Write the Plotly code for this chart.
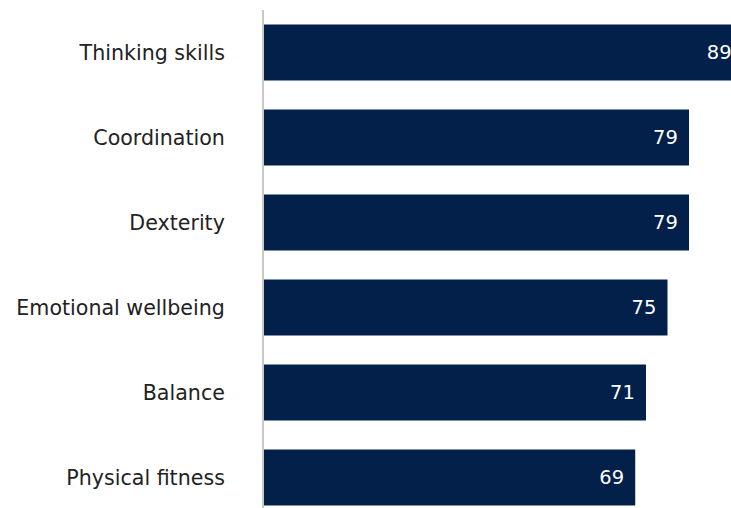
import plotly.graph_objects as go

categories = ["Thinking skills", "Coordination", "Dexterity", "Emotional wellbeing", "Balance", "Physical fitness"]
values = [89, 79, 79, 75, 71, 69]

BAR = "#03204a"
FONT = "DejaVu Sans"

fig = go.Figure(go.Bar(
    x=values,
    y=categories,
    orientation="h",
    marker=dict(color=BAR, line=dict(width=0)),
    text=[str(v) + "\u00a0\u200a" for v in values],
    textposition="inside",
    insidetextanchor="end",
    textfont=dict(color="white", size=19.5, family=FONT),
    width=0.66,
    cliponaxis=True,
))

fig.update_layout(
    width=731, height=508,
    margin=dict(l=264, r=0, t=10, b=0, pad=0),
    plot_bgcolor="white", paper_bgcolor="white",
    showlegend=False,
    font=dict(family=FONT, size=20.6, color="#222222"),
    xaxis=dict(range=[0, 86.8], visible=False, showgrid=False, zeroline=False),
    yaxis=dict(
        categoryorder="array", categoryarray=categories,
        range=[5.359, -0.5],
        showgrid=False, zeroline=False,
        showline=True, linecolor="#c8c8c8", linewidth=2,
        ticks="", ticklabelstandoff=33,
        tickfont=dict(family=FONT, size=20.6, color="#222222"),
    ),
    uniformtext=dict(mode=False),
)

fig.write_html("out.html")
